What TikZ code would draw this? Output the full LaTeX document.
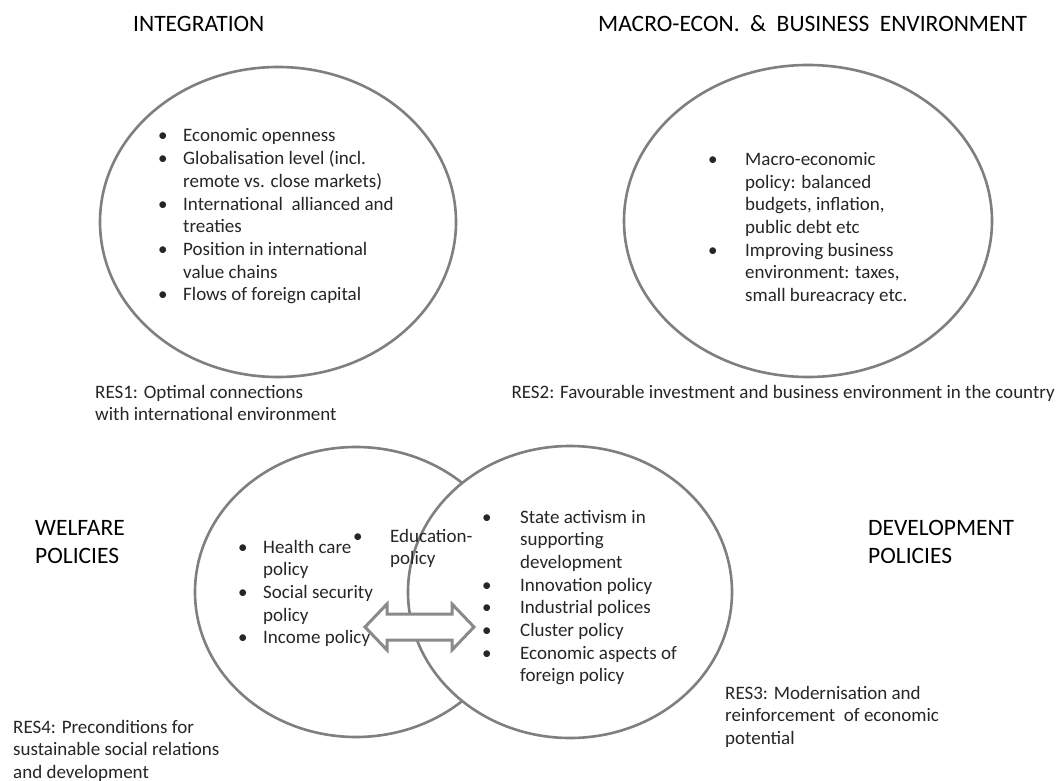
\documentclass[tikz,border=0pt]{standalone}
\usepackage{fontspec}
\setmainfont{Carlito}
\usepackage{array}
\usetikzlibrary{shapes.geometric}
\definecolor{ringgray}{HTML}{7F7F7F}
\definecolor{arrowgray}{HTML}{8A8A8A}
\definecolor{bodytext}{HTML}{262626}
\newcommand\blist[2]{\begin{tabular}[t]{@{}p{#1}@{}l@{}}#2\end{tabular}}
\newcommand\plist[1]{\begin{tabular}[t]{@{}l@{}}#1\end{tabular}}
\newcommand\wsp{\hspace{10.5pt}}
\begin{document}
\begin{tikzpicture}[x=1pt,y=-1pt,
  ring/.style={ellipse, draw=ringgray, line width=2.6pt, inner sep=0pt},
  body/.style={font=\fontsize{19}{22.7}\selectfont, text=bodytext, inner sep=0pt, anchor=base west},
  heading/.style={font=\fontsize{23.5}{28}\selectfont, text=black, inner sep=0pt, anchor=base west},
  blockarrow/.style={draw=arrowgray, line width=3pt, fill=white, line join=miter}]
\useasboundingbox (0,0) rectangle (1058,781);
\fill[white] (0,0) rectangle (1058,781);

% top ellipses
\node[ring, minimum width=356pt, minimum height=310pt] (integ) at (278,222) {};
\node[ring, minimum width=368pt, minimum height=312pt] (macro) at (808,221) {};

% bottom ellipses
\node[ring, minimum width=322pt, minimum height=290pt] (welf) at (356,592) {};
\node[ring, fill=white, minimum width=324pt, minimum height=292pt] (devel) at (570,592) {};

% titles
\node[heading] (tInteg) at (133,32) {INTEGRATION};
\node[heading] (tMacro) at (598,32) {MACRO-ECON.\wsp\&\wsp BUSINESS\wsp ENVIRONMENT};
\node[heading] (tWelf) at (35,535) {\plist{WELFARE\\POLICIES}};
\node[heading] (tDev) at (868,535) {\plist{DEVELOPMENT\\POLICIES}};

% lists
\node[body] (lInteg) at (158,142) {\blist{25pt}{%
  \textbullet & Economic openness\\
  \textbullet & Globalisation level (incl.\\
   & remote vs. close markets)\\
  \textbullet & International\ \ allianced and\\
   & treaties\\
  \textbullet & Position in international\\
   & value chains\\
  \textbullet & Flows of foreign capital}};

\node[body] (lMacro) at (708,165.5) {\blist{37pt}{%
  \textbullet & Macro-economic\\
   & policy: balanced\\
   & budgets, inflation,\\
   & public debt etc\\
  \textbullet & Improving business\\
   & environment: taxes,\\
   & small bureacracy etc.}};

\node[body] (lWelf) at (238,553) {\blist{25pt}{%
  \textbullet & Health care\\
   & policy\\
  \textbullet & Social security\\
   & policy\\
  \textbullet & Income policy}};

\node[body] (lDev) at (482,523) {\blist{38pt}{%
  \textbullet & State activism in\\
   & supporting\\
   & development\\
  \textbullet & Innovation policy\\
  \textbullet & Industrial polices\\
  \textbullet & Cluster policy\\
  \textbullet & Economic aspects of\\
   & foreign policy}};

\node[body] (lEdu) at (353,542) {\blist{37pt}{%
  \textbullet & Education-\\
   & policy}};

% result labels
\node[body] (res1) at (95,398) {\plist{RES1: Optimal connections\\with international environment}};
\node[body, anchor=base east] (res2) at (1055,398) {RES2: Favourable investment and business environment in the country};
\node[body] (res3) at (725,699) {\plist{RES3: Modernisation and\\reinforcement\ \ of economic\\potential}};
\node[body] (res4) at (13,733) {\plist{RES4: Preconditions for\\sustainable social relations\\and development}};

% double block arrow between the policy groups
\coordinate (al) at (365,627);
\coordinate (ar) at (474,627);
\draw[blockarrow] (al) -- ++(22,-23) -- ++(0,10) -- ++(65,0) -- ++(0,-10)
  -- (ar) -- ++(-22,23) -- ++(0,-10) -- ++(-65,0) -- ++(0,10) -- cycle;
\end{tikzpicture}
\end{document}
